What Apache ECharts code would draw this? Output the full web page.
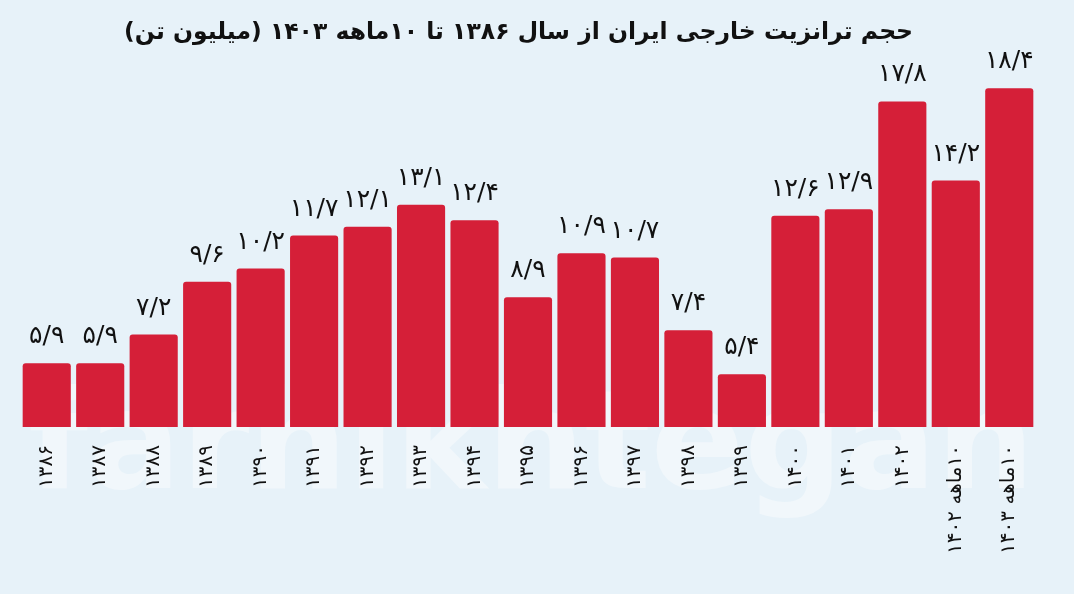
<!DOCTYPE html>
<html>
<head>
<meta charset="utf-8">
<script src="https://cdn.jsdelivr.net/npm/echarts@6/dist/echarts.min.js"></script>
<style>
html,body{margin:0;padding:0;background:#e7f2f9;}
#chart{width:1074px;height:594px;}
</style>
</head>
<body>
<div id="chart"></div>
<script>
var titleText = 'حجم ترانزیت خارجی ایران از سال ۱۳۸۶ تا ۱۰ماهه ۱۴۰۳ (میلیون تن)';
var categories = ['۱۳۸۶','۱۳۸۷','۱۳۸۸','۱۳۸۹','۱۳۹۰','۱۳۹۱','۱۳۹۲','۱۳۹۳','۱۳۹۴','۱۳۹۵','۱۳۹۶','۱۳۹۷','۱۳۹۸','۱۳۹۹','۱۴۰۰','۱۴۰۱','۱۴۰۲','۱۰ماهه ۱۴۰۲','۱۰ماهه ۱۴۰۳'];
var values = [5.9,5.9,7.2,9.6,10.2,11.7,12.1,13.1,12.4,8.9,10.9,10.7,7.4,5.4,12.6,12.9,17.8,14.2,18.4];
var watermarkText = 'farhikhtegan';

var RLM = '\u200F';
var faDigits = '۰۱۲۳۴۵۶۷۸۹';
function toFa(v){
  return String(v).replace('.', '/').replace(/[0-9]/g, function(d){ return faDigits[+d]; });
}

var chart = echarts.init(document.getElementById('chart'));
chart.setOption({
  backgroundColor: '#e7f2f9',
  animation: false,
  title: {
    text: RLM + titleText + RLM,
    left: 119,
    top: 16,
    textStyle: { fontFamily: 'DejaVu Sans', fontWeight: 'bold', fontSize: 23.5, color: '#111' }
  },
  graphic: [{
    type: 'text',
    z: -10,
    silent: true,
    style: {
      x: 28,
      y: 452,
      textVerticalAlign: 'middle',
      text: watermarkText,
      fontFamily: 'DejaVu Sans',
      fontWeight: 'bold',
      fontSize: 138,
      fill: '#f1f7fb',
      shadowColor: 'rgba(110,130,150,0.22)',
      shadowBlur: 14,
      shadowOffsetY: 4
    }
  }],
  grid: { left: 20, right: 38, top: 53, bottom: 167 },
  xAxis: {
    type: 'category',
    data: categories,
    axisLine: { show: false },
    axisTick: { show: false },
    axisLabel: {
      interval: 0,
      rotate: 90,
      margin: 18,
      fontFamily: 'DejaVu Sans',
      fontSize: 20,
      color: '#111',
      formatter: function(v){ return RLM + v; }
    }
  },
  yAxis: {
    type: 'value',
    min: 3,
    max: 20,
    show: false,
    splitLine: { show: false }
  },
  series: [{
    type: 'bar',
    data: values,
    barCategoryGap: '10%',
    itemStyle: { color: '#d51f38', borderRadius: [3,3,0,0] },
    label: {
      show: true,
      position: 'top',
      distance: 14,
      fontFamily: 'DejaVu Sans',
      fontSize: 25,
      color: '#111',
      formatter: function(p){ return toFa(p.value); }
    }
  }]
});
</script>
</body>
</html>
